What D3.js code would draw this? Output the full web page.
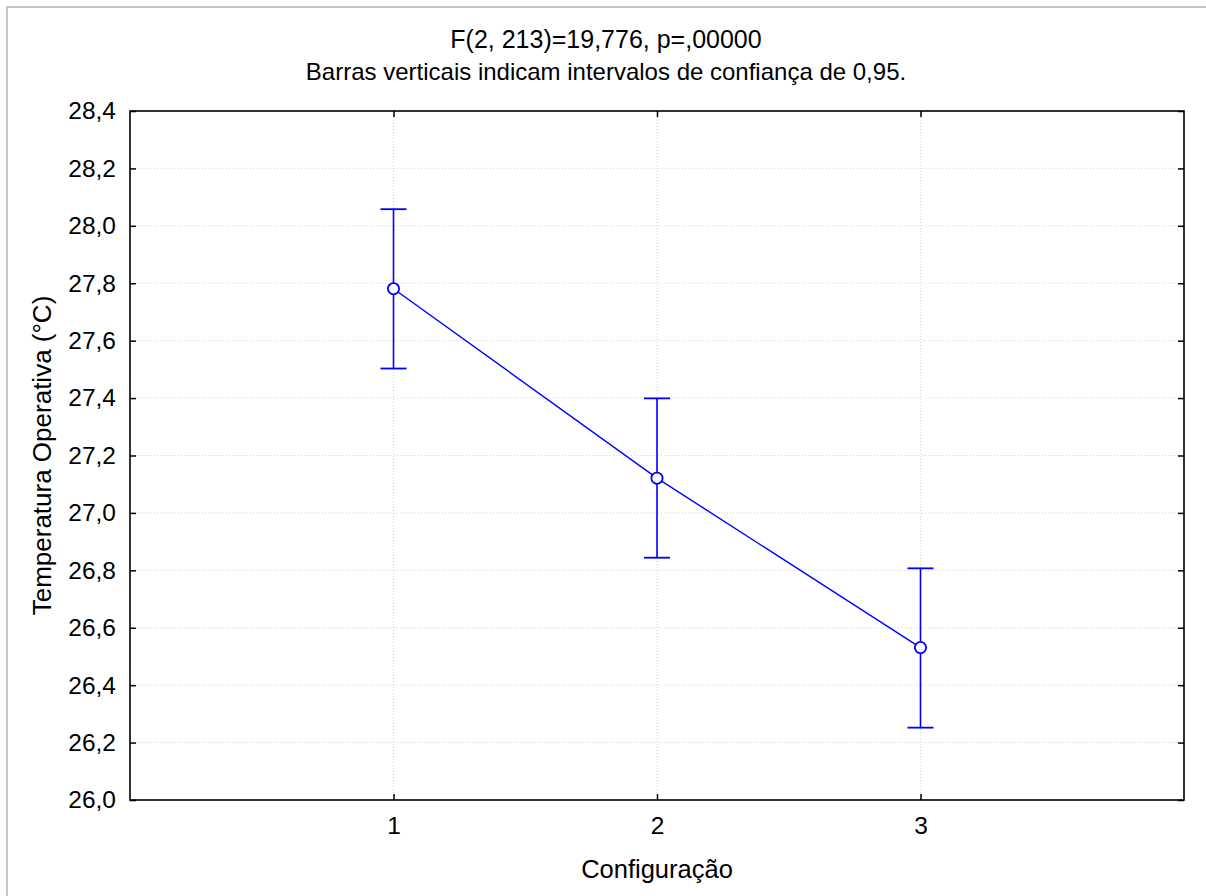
<!DOCTYPE html>
<html>
<head>
<meta charset="utf-8">
<script src="https://d3js.org/d3.v7.min.js"></script>
<style>
  html, body { margin: 0; background: #fff; overflow: hidden; }
  svg { display: block; }
  text { font-family: "Liberation Sans", Arial, sans-serif; fill: #000; }
</style>
</head>
<body>
<div class="chart"></div>
<script>
// data
var configs = [1, 2, 3]
var means = [27.781, 27.121, 26.531]
var upper = [28.058, 27.399, 26.807]
var lower = [27.503, 26.844, 26.252]
var yTicks = [26.0, 26.2, 26.4, 26.6, 26.8, 27.0, 27.2, 27.4, 27.6, 27.8, 28.0, 28.2, 28.4]
var titleLines = ["F(2, 213)=19,776, p=,00000", "Barras verticais indicam intervalos de confiança de 0,95."]
var titleSizes = ["25px", "24px"]

var width = 1206, height = 896
var padding = { top: 111, right: 22, bottom: 96, left: 130 }
var plotW = width - padding.left - padding.right
var plotH = height - padding.top - padding.bottom
var fontSize = "24.5px"
var blue = "#0000ff"

var ptFormat = d3.formatLocale({ decimal: ",", thousands: ".", grouping: [3], currency: ["", ""] }).format(".1f")

var svg = d3.select(".chart")
  .append("svg")
  .attr("width", width)
  .attr("height", height)

// outer gray frame (only left and top edges show)
svg.append("rect")
  .attr("x", 7).attr("y", 7)
  .attr("width", 1400).attr("height", 1200)
  .attr("fill", "none")
  .attr("stroke", "#c6c6c6")
  .attr("stroke-width", 2)

var main = svg.append("g")
  .attr("transform", "translate(" + padding.left + "," + padding.top + ")")

var x = d3.scaleLinear().domain([0, 4]).range([0, plotW])
var y = d3.scaleLinear().domain([26.0, 28.4]).range([plotH, 0])

// grid
main.append("g").selectAll("line")
  .data(yTicks.slice(1, -1))
  .enter().append("line")
  .attr("x1", 0).attr("x2", plotW)
  .attr("y1", d => y(d)).attr("y2", d => y(d))
  .attr("stroke", "#d4d4d4")
  .attr("stroke-dasharray", "1,2")
main.append("g").selectAll("line")
  .data(configs)
  .enter().append("line")
  .attr("x1", d => x(d)).attr("x2", d => x(d))
  .attr("y1", 0).attr("y2", plotH)
  .attr("stroke", "#d4d4d4")
  .attr("stroke-dasharray", "1,2")

// axes, ticks inward on all four sides
var axisLeft = d3.axisLeft(y).tickValues(yTicks).tickSizeInner(-6).tickSizeOuter(0).tickPadding(14).tickFormat(ptFormat)
var axisRight = d3.axisRight(y).tickValues(yTicks).tickSizeInner(-6).tickSizeOuter(0).tickFormat("")
var axisBottom = d3.axisBottom(x).tickValues(configs).tickSizeInner(-6).tickSizeOuter(0).tickPadding(17).tickFormat(d3.format("d"))
var axisTop = d3.axisTop(x).tickValues(configs).tickSizeInner(-6).tickSizeOuter(0).tickFormat("")

function styleAxis(g) {
  g.select(".domain").remove()
  g.selectAll(".tick line").attr("stroke", "#000").attr("stroke-width", 1.5)
  g.selectAll(".tick text")
    .style("font-family", "'Liberation Sans', Arial, sans-serif")
    .style("font-size", fontSize)
    .attr("fill", "#000")
}
main.append("g").call(axisLeft).call(styleAxis)
main.append("g").attr("transform", "translate(" + plotW + ",0)").call(axisRight).call(styleAxis)
main.append("g").attr("transform", "translate(0," + plotH + ")").call(axisBottom).call(styleAxis)
main.append("g").call(axisTop).call(styleAxis)

main.append("rect")
  .attr("x", 0).attr("y", 0)
  .attr("width", plotW).attr("height", plotH)
  .attr("fill", "none")
  .attr("stroke", "#000")
  .attr("stroke-width", 1.6)

// line through the means
var line = d3.line().x((d, i) => x(configs[i])).y(d => y(d))
main.append("path")
  .attr("d", line(means))
  .attr("fill", "none")
  .attr("stroke", blue)
  .attr("stroke-width", 1.4)

// error bars
var bars = main.append("g").selectAll("g")
  .data(configs)
  .enter().append("g")
bars.append("line")
  .attr("x1", d => x(d)).attr("x2", d => x(d))
  .attr("y1", (d, i) => y(lower[i])).attr("y2", (d, i) => y(upper[i]))
  .attr("stroke", blue).attr("stroke-width", 1.6)
bars.append("line")
  .attr("x1", d => x(d) - 13).attr("x2", d => x(d) + 13)
  .attr("y1", (d, i) => y(upper[i])).attr("y2", (d, i) => y(upper[i]))
  .attr("stroke", blue).attr("stroke-width", 1.8)
bars.append("line")
  .attr("x1", d => x(d) - 13).attr("x2", d => x(d) + 13)
  .attr("y1", (d, i) => y(lower[i])).attr("y2", (d, i) => y(lower[i]))
  .attr("stroke", blue).attr("stroke-width", 1.8)
bars.append("circle")
  .attr("cx", d => x(d))
  .attr("cy", (d, i) => y(means[i]))
  .attr("r", 5.6)
  .attr("fill", "#fff")
  .attr("stroke", blue)
  .attr("stroke-width", 1.8)

// titles
titleLines.map((t, i) => {
  svg.append("text")
    .text(t)
    .attr("x", 606)
    .attr("y", 48 + i * 32)
    .attr("text-anchor", "middle")
    .style("font-size", titleSizes[i])
})

svg.append("text")
  .text("Configuração")
  .attr("x", padding.left + plotW / 2)
  .attr("y", 878)
  .attr("text-anchor", "middle")
  .style("font-size", "25.5px")

svg.append("text")
  .text("Temperatura Operativa (°C)")
  .attr("transform", "translate(51," + (padding.top + plotH / 2) + ") rotate(-90)")
  .attr("text-anchor", "middle")
  .style("font-size", "26px")
</script>
</body>
</html>
